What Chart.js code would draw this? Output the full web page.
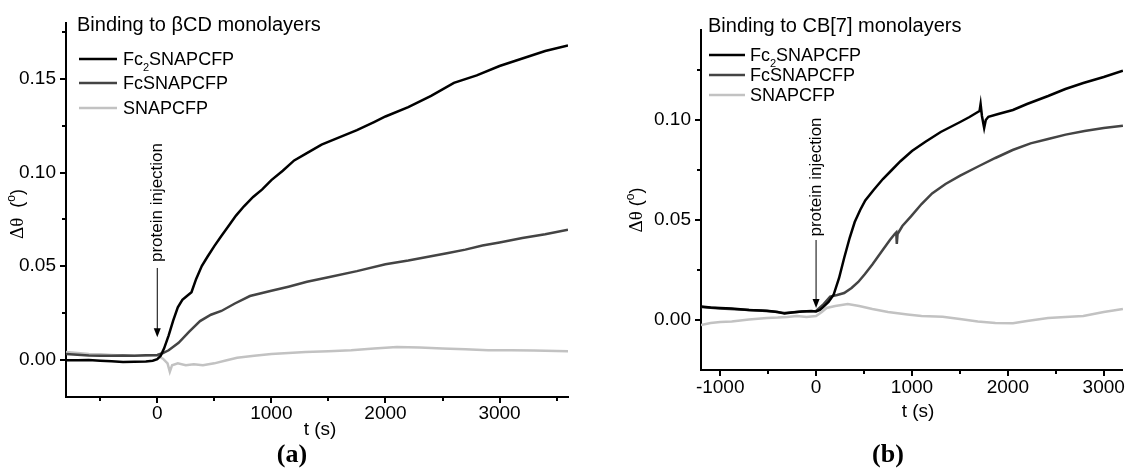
<!DOCTYPE html>
<html>
<head>
<meta charset="utf-8">
<script src="https://cdn.jsdelivr.net/npm/chart.js@4.4.0/dist/chart.umd.min.js"></script>
<style>
    html, body { margin: 0; padding: 0; background: #fff; }
    #wrap { position: relative; width: 1131px; height: 473px; overflow: hidden; }
    canvas { position: absolute; top: 0; }
</style>
</head>
<body>
<div id="wrap">
    <canvas id="chartA" width="580" height="473" style="left:0px"></canvas>
    <canvas id="chartB" width="551" height="473" style="left:580px"></canvas>
</div>
<script>
// ---- series names (text in {} is drawn as subscript) ----
const seriesNames = ['Fc{2}SNAPCFP', 'FcSNAPCFP', 'SNAPCFP'];
const seriesColors = ['#000000', '#444444', '#c2c2c2'];

// ---- panel (a): binding to beta-CD monolayers ----
const aTimeFc2 = [-800, -700, -600, -500, -400, -300, -200, -100, -40, 0, 30, 60, 100, 140, 180, 220, 260, 300, 340, 390, 440, 500, 560, 620, 690, 760, 840, 920, 1000, 1100, 1200, 1300, 1440, 1600, 1750, 1900, 2000, 2200, 2400, 2600, 2800, 3000, 3200, 3400, 3600];
const aFc2 = [-0.0003, -0.0004, -0.0002, -0.0006, -0.0009, -0.0013, -0.0011, -0.0010, -0.0006, 0.0002, 0.002, 0.006, 0.013, 0.021, 0.028, 0.032, 0.034, 0.036, 0.043, 0.050, 0.055, 0.0607, 0.066, 0.071, 0.077, 0.082, 0.087, 0.091, 0.096, 0.101, 0.1065, 0.110, 0.115, 0.119, 0.1227, 0.127, 0.130, 0.135, 0.141, 0.148, 0.152, 0.157, 0.161, 0.165, 0.168];

const aTimeFc = [-800, -700, -600, -500, -400, -300, -200, -100, 0, 50, 100, 187, 280, 375, 470, 562, 680, 812, 1000, 1150, 1312, 1500, 1750, 2000, 2200, 2375, 2550, 2700, 2850, 3000, 3200, 3400, 3600];
const aFc = [0.0030, 0.0026, 0.0022, 0.0021, 0.0020, 0.0022, 0.0021, 0.0023, 0.0025, 0.0035, 0.005, 0.009, 0.015, 0.0206, 0.024, 0.026, 0.030, 0.034, 0.0368, 0.039, 0.0416, 0.044, 0.0473, 0.051, 0.053, 0.055, 0.057, 0.0588, 0.061, 0.0626, 0.065, 0.067, 0.0695];

const aTimeSnap = [-800, -700, -600, -500, -400, -300, -200, -100, 0, 50, 90, 110, 130, 180, 250, 320, 400, 500, 600, 700, 850, 1000, 1150, 1300, 1500, 1700, 1900, 2100, 2300, 2500, 2700, 2900, 3100, 3300, 3600];
const aSnap = [0.004, 0.0035, 0.003, 0.0028, 0.0025, 0.0022, 0.002, 0.002, 0.002, 0.0005, -0.002, -0.0065, -0.003, -0.002, -0.003, -0.0025, -0.003, -0.002, -0.0005, 0.001, 0.002, 0.003, 0.0035, 0.004, 0.0045, 0.005, 0.006, 0.0068, 0.0065, 0.006, 0.0055, 0.005, 0.005, 0.0048, 0.0045];

const aXMajor = [0, 1000, 2000, 3000];
const aXMinor = [-500, 500, 1500, 2500, 3500];
const aYMajor = [0, 0.05, 0.10, 0.15];
const aYMinor = [0.025, 0.075, 0.125, 0.175];

// ---- panel (b): binding to CB[7] monolayers ----
const bTimeFc2 = [-1200, -1100, -1000, -880, -700, -513, -400, -330, -250, -147, -50, 0, 40, 73, 130, 183, 240, 293, 350, 403, 460, 513, 600, 697, 790, 880, 1000, 1137, 1300, 1503, 1600, 1687, 1705, 1716, 1730, 1753, 1770, 1797, 1900, 2053, 2200, 2420, 2600, 2787, 3000, 3200];
const bFc2 = [0.0068, 0.0062, 0.006, 0.0058, 0.005, 0.0046, 0.004, 0.0032, 0.0038, 0.0043, 0.0045, 0.0043, 0.005, 0.0064, 0.009, 0.0126, 0.021, 0.031, 0.041, 0.049, 0.055, 0.0598, 0.065, 0.0705, 0.075, 0.0794, 0.0845, 0.089, 0.094, 0.099, 0.1015, 0.104, 0.1045, 0.108, 0.102, 0.096, 0.1, 0.1016, 0.103, 0.105, 0.108, 0.112, 0.1155, 0.1185, 0.1215, 0.1247];

const bTimeFc = [-1200, -1000, -800, -600, -450, -330, -150, 0, 70, 147, 220, 293, 370, 440, 510, 587, 680, 770, 820, 836, 842, 850, 900, 990, 1100, 1210, 1350, 1503, 1700, 1870, 2050, 2237, 2420, 2603, 2800, 3000, 3200];
const bFc = [0.0065, 0.0058, 0.0053, 0.0048, 0.0042, 0.0035, 0.0042, 0.0045, 0.0075, 0.0117, 0.0125, 0.0135, 0.016, 0.019, 0.023, 0.0278, 0.034, 0.040, 0.043, 0.0438, 0.038, 0.043, 0.047, 0.0518, 0.058, 0.0633, 0.068, 0.0722, 0.077, 0.081, 0.085, 0.0883, 0.0905, 0.0927, 0.0945, 0.096, 0.0971];

const bTimeSnap = [-1200, -1100, -1000, -880, -700, -513, -400, -300, -200, -100, 0, 60, 110, 200, 330, 450, 587, 750, 953, 1100, 1320, 1500, 1687, 1870, 2053, 2200, 2420, 2600, 2787, 3000, 3200];
const bSnap = [-0.0025, -0.0015, -0.001, -0.0007, 0.0002, 0.001, 0.0012, 0.0015, 0.002, 0.0015, 0.002, 0.004, 0.006, 0.007, 0.008, 0.007, 0.0055, 0.004, 0.0028, 0.002, 0.0016, 0.0005, -0.0007, -0.0015, -0.0016, -0.0005, 0.001, 0.0015, 0.002, 0.004, 0.0055];

const bXMajor = [-1000, 0, 1000, 2000, 3000];
const bXMinor = [-500, 500, 1500, 2500];
const bYMajor = [0, 0.05, 0.10];
const bYMinor = [0.025, 0.075, 0.125];

const SANS = "'Liberation Sans', Arial, sans-serif";
const SERIF = "'Liberation Serif', 'Times New Roman', serif";

function toPoints(times, values) {
    return times.map((t, i) => ({ x: t, y: values[i] }));
}

function isIn(list, v) {
    return list.some(m => Math.abs(m - v) < 1e-9);
}

// draws text where {x} marks a subscript character
function drawRich(ctx, text, x, y, size) {
    const parts = text.split(/(\{[^}]*\})/).filter(p => p.length);
    let cx = x;
    ctx.textBaseline = 'alphabetic';
    ctx.textAlign = 'left';
    const base = y + size * 0.36;
    parts.forEach(p => {
        if (p.startsWith('{')) {
            const s = p.slice(1, -1);
            ctx.font = Math.round(size * 0.62) + 'px ' + SANS;
            ctx.fillText(s, cx, base + size * 0.28);
            cx += ctx.measureText(s).width;
        } else {
            ctx.font = size + 'px ' + SANS;
            ctx.fillText(p, cx, base);
            cx += ctx.measureText(p).width;
        }
    });
}

// extra drawing: Origin style tick marks, in-plot legend, annotation, axis titles, panel label
const decoPlugin = {
    id: 'deco',
    afterDraw(chart, args, o) {
        const ctx = chart.ctx;
        const area = chart.chartArea;
        const xs = chart.scales.x;
        const ys = chart.scales.y;
        ctx.save();
        ctx.fillStyle = '#000';
        ctx.strokeStyle = '#000';

        // tick marks (outward, major longer than minor)
        ctx.lineWidth = 2;
        xs.ticks.forEach(t => {
            const px = Math.round(xs.getPixelForValue(t.value));
            const len = isIn(o.xMajor, t.value) ? 6 : 4;
            ctx.beginPath();
            ctx.moveTo(px, area.bottom);
            ctx.lineTo(px, area.bottom + len);
            ctx.stroke();
        });
        ys.ticks.forEach(t => {
            const py = Math.round(ys.getPixelForValue(t.value));
            const len = isIn(o.yMajor, t.value) ? 6 : 4;
            ctx.beginPath();
            ctx.moveTo(area.left, py);
            ctx.lineTo(area.left - len, py);
            ctx.stroke();
        });

        // legend title and entries
        ctx.font = o.titleSize + 'px ' + SANS;
        ctx.textBaseline = 'middle';
        ctx.textAlign = 'left';
        ctx.fillText(o.title, o.titleX, o.titleY);
        chart.data.datasets.forEach((ds, i) => {
            const y = o.legendRows[i];
            ctx.strokeStyle = ds.borderColor;
            ctx.lineWidth = 2.5;
            ctx.beginPath();
            ctx.moveTo(o.legendX1, y);
            ctx.lineTo(o.legendX2, y);
            ctx.stroke();
            ctx.fillStyle = '#000';
            drawRich(ctx, ds.label, o.legendTextX, y, o.legendSize);
        });

        // protein injection note and arrow, placed in data units
        const ax = xs.getPixelForValue(o.noteX);
        const tTop = ys.getPixelForValue(o.noteTextTop);
        const tBot = ys.getPixelForValue(o.noteTextBottom);
        const aTop = ys.getPixelForValue(o.arrowTop);
        const aBot = ys.getPixelForValue(o.arrowBottom);
        ctx.save();
        ctx.translate(ax, (tTop + tBot) / 2);
        ctx.rotate(-Math.PI / 2);
        ctx.font = o.noteSize + 'px ' + SANS;
        ctx.textAlign = 'center';
        ctx.textBaseline = 'middle';
        ctx.fillStyle = '#000';
        ctx.fillText('protein injection', 0, 0);
        ctx.restore();
        ctx.strokeStyle = '#000';
        ctx.lineWidth = 1;
        ctx.beginPath();
        ctx.moveTo(ax, aTop);
        ctx.lineTo(ax, aBot - 7);
        ctx.stroke();
        ctx.beginPath();
        ctx.moveTo(ax - 3.5, aBot - 9);
        ctx.lineTo(ax + 3.5, aBot - 9);
        ctx.lineTo(ax, aBot);
        ctx.closePath();
        ctx.fill();

        // y axis title: delta theta (degree)
        ctx.save();
        ctx.translate(o.yTitleX, o.yTitleY);
        ctx.rotate(-Math.PI / 2);
        const parts = [
            { t: '\u0394\u03b8', f: '19px ' + SERIF, dy: 0 },
            { t: o.yTitleGap + '(', f: '18px ' + SANS, dy: 0 },
            { t: 'o', f: '12px ' + SANS, dy: -8 },
            { t: ')', f: '18px ' + SANS, dy: 0 }
        ];
        let total = 0;
        parts.forEach(p => { ctx.font = p.f; total += ctx.measureText(p.t).width; });
        let cx = -total / 2;
        ctx.textBaseline = 'alphabetic';
        ctx.textAlign = 'left';
        parts.forEach(p => {
            ctx.font = p.f;
            ctx.fillText(p.t, cx, 6 + p.dy);
            cx += ctx.measureText(p.t).width;
        });
        ctx.restore();

        // x axis title
        ctx.font = '19px ' + SANS;
        ctx.textAlign = 'center';
        ctx.textBaseline = 'middle';
        ctx.fillText('t (s)', o.xTitleX, o.xTitleY);

        // panel label
        ctx.font = 'bold 26px ' + SERIF;
        ctx.fillText(o.panel, o.panelX, o.panelY);
        ctx.restore();
    }
};

function makeChart(canvasId, sets, limits, ticksDef, layout, deco) {
    const allX = ticksDef.xMajor.concat(ticksDef.xMinor).sort((p, q) => p - q);
    const allY = ticksDef.yMajor.concat(ticksDef.yMinor).sort((p, q) => p - q);
    return new Chart(document.getElementById(canvasId).getContext('2d'), {
        type: 'scatter',
        data: {
            datasets: sets.map((s, i) => ({
                label: seriesNames[i],
                data: toPoints(s[0], s[1]),
                showLine: true,
                borderColor: seriesColors[i],
                backgroundColor: seriesColors[i],
                borderWidth: 2.5,
                pointRadius: 0,
                tension: 0
            }))
        },
        options: {
            responsive: false,
            animation: false,
            devicePixelRatio: 1,
            layout: { padding: { top: layout.top, right: layout.right, left: 0, bottom: 0 } },
            plugins: {
                legend: { display: false },
                tooltip: { enabled: false },
                deco: Object.assign({}, deco, ticksDef)
            },
            scales: {
                x: {
                    type: 'linear',
                    min: limits.xMin,
                    max: limits.xMax,
                    afterBuildTicks: scale => { scale.ticks = allX.map(v => ({ value: v })); },
                    afterFit: scale => { scale.height = layout.xHeight; },
                    grid: { display: false, drawTicks: false },
                    border: { display: true, color: '#000', width: 2 },
                    ticks: {
                        autoSkip: false,
                        maxRotation: 0,
                        minRotation: 0,
                        padding: layout.xPad,
                        color: '#000',
                        font: { family: SANS, size: 19 },
                        callback: v => isIn(ticksDef.xMajor, v) ? String(v) : ''
                    }
                },
                y: {
                    type: 'linear',
                    min: limits.yMin,
                    max: limits.yMax,
                    afterBuildTicks: scale => { scale.ticks = allY.map(v => ({ value: v })); },
                    afterFit: scale => { scale.width = layout.yWidth; },
                    grid: { display: false, drawTicks: false },
                    border: { display: true, color: '#000', width: 2 },
                    ticks: {
                        autoSkip: false,
                        padding: layout.yPad,
                        color: '#000',
                        font: { family: SANS, size: 19 },
                        callback: v => isIn(ticksDef.yMajor, v) ? v.toFixed(2) : ''
                    }
                }
            }
        },
        plugins: [decoPlugin]
    });
}

makeChart('chartA',
    [[aTimeFc2, aFc2], [aTimeFc, aFc], [aTimeSnap, aSnap]],
    { xMin: -800, xMax: 3600, yMin: -0.02, yMax: 0.18 },
    { xMajor: aXMajor, xMinor: aXMinor, yMajor: aYMajor, yMinor: aYMinor },
    { top: 23, right: 12, yWidth: 66, xHeight: 76, xPad: 5, yPad: 10 },
    {
        title: 'Binding to \u03b2CD monolayers', titleSize: 20, titleX: 77, titleY: 25,
        legendRows: [59, 83, 108], legendX1: 79, legendX2: 117, legendTextX: 123, legendSize: 18,
        noteX: 0, noteTextTop: 0.116, noteTextBottom: 0.052, arrowTop: 0.049, arrowBottom: 0.012, noteSize: 17,
        yTitleX: 17, yTitleY: 214, yTitleGap: '  ',
        xTitleX: 320, xTitleY: 430,
        panel: '(a)', panelX: 292, panelY: 455
    });

makeChart('chartB',
    [[bTimeFc2, bFc2], [bTimeFc, bFc], [bTimeSnap, bSnap]],
    { xMin: -1200, xMax: 3200, yMin: -0.025, yMax: 0.145 },
    { xMajor: bXMajor, xMinor: bXMinor, yMajor: bYMajor, yMinor: bYMinor },
    { top: 30, right: 3, yWidth: 121, xHeight: 103, xPad: 6, yPad: 10 },
    {
        title: 'Binding to CB[7] monolayers', titleSize: 20, titleX: 128, titleY: 26,
        legendRows: [55, 75, 95], legendX1: 129, legendX2: 165, legendTextX: 170, legendSize: 18,
        noteX: 0, noteTextTop: 0.101, noteTextBottom: 0.042, arrowTop: 0.040, arrowBottom: 0.006, noteSize: 17,
        yTitleX: 56, yTitleY: 210, yTitleGap: ' ',
        xTitleX: 338, xTitleY: 412,
        panel: '(b)', panelX: 308, panelY: 455
    });
</script>
</body>
</html>
